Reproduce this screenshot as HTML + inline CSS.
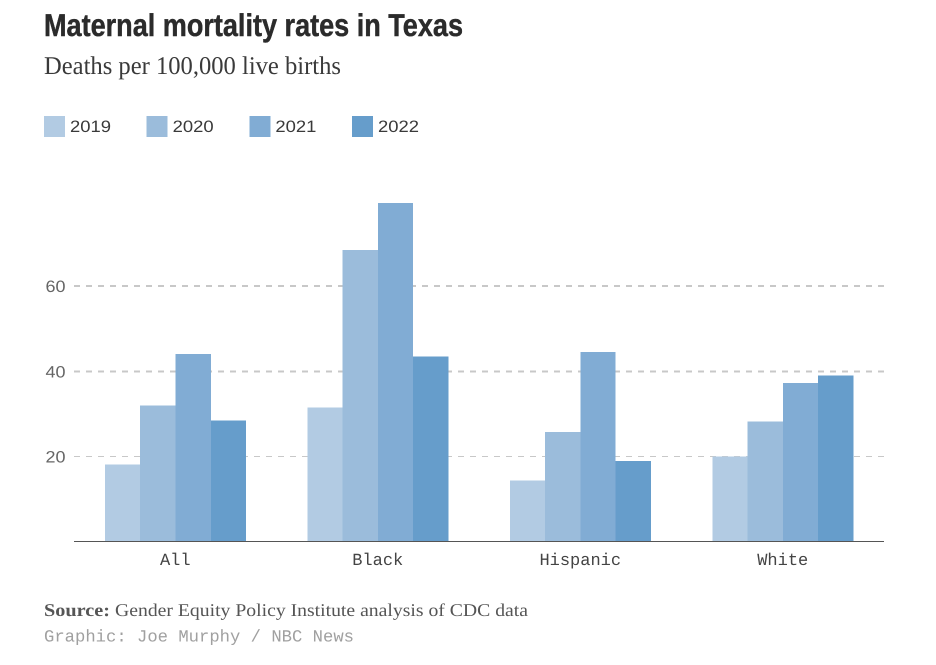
<!DOCTYPE html>
<html lang="en">
<head>
<meta charset="utf-8">
<title>Maternal mortality rates in Texas</title>
<style>
html,body{margin:0;padding:0;background:#fff;width:936px;height:665px;overflow:hidden}
svg{display:block}
text{text-rendering:geometricPrecision}
</style>
</head>
<body>
<svg id="chart" xmlns="http://www.w3.org/2000/svg" width="936" height="665" viewBox="0 0 936 665">
  <text x="44" y="36" font-family="Liberation Sans, sans-serif" font-weight="700" font-size="31.5" fill="#2b2b2b" stroke="#2b2b2b" stroke-width="0.45" textLength="419" lengthAdjust="spacingAndGlyphs">Maternal mortality rates in Texas</text>
  <text x="44" y="74" font-family="Liberation Serif, serif" font-size="25.5" fill="#3a3a3a" textLength="297" lengthAdjust="spacingAndGlyphs">Deaths per 100,000 live births</text>
  <g id="legend"></g>
  <g id="grid"></g>
  <g id="bars" shape-rendering="crispEdges"></g>
  <line x1="74" x2="884" y1="541.5" y2="541.5" stroke="#555" stroke-width="1" shape-rendering="crispEdges"></line>
  <g id="xlabels"></g>
  <text x="44" y="616" font-family="Liberation Serif, serif" font-weight="700" font-size="18" fill="#555" textLength="66" lengthAdjust="spacingAndGlyphs">Source:</text>
  <text x="115" y="616" font-family="Liberation Serif, serif" font-size="18" fill="#555" textLength="413" lengthAdjust="spacingAndGlyphs">Gender Equity Policy Institute analysis of CDC data</text>
  <text x="44" y="641.5" font-family="Liberation Mono, monospace" font-size="17" fill="#a0a0a0" textLength="310" lengthAdjust="spacingAndGlyphs">Graphic: Joe Murphy / NBC News</text>
</svg>
<script>
const categories = ['All', 'Black', 'Hispanic', 'White'];
const years = ['2019', '2020', '2021', '2022'];
const values2019 = [18.1, 31.5, 14.4, 20.0];
const values2020 = [32.0, 68.5, 25.7, 28.2];
const values2021 = [44.0, 79.5, 44.5, 37.2];
const values2022 = [28.5, 43.5, 18.9, 39.0];
const yTicks = [20, 40, 60];
const series = [values2019, values2020, values2021, values2022];
const colors = ['#b2cbe3', '#9bbcdb', '#81acd4', '#669dcb'];

const NS = 'http://www.w3.org/2000/svg';
const plotLeft = 74;
const plotRight = 884;
const baseY = 541.75;
const pxPerUnit = 4.2625;
const bandWidth = (plotRight - plotLeft) / categories.length;
const barStart = 104.95;
const barStep = 202.45;
const barWidth = 35.28;

function yScale(v) { return baseY - v * pxPerUnit; }
function xBand(i) { return plotLeft + i * bandWidth; }
function xBar(i, j) { return barStart + i * barStep + j * barWidth; }
function make(tag, attrs, parent, content) {
  const el = document.createElementNS(NS, tag);
  for (const k in attrs) el.setAttribute(k, attrs[k]);
  if (content !== undefined) el.textContent = content;
  parent.appendChild(el);
  return el;
}

const legendG = document.getElementById('legend');
years.forEach(function (year, j) {
  const x = 44 + j * 102.67;
  const swatch = make('rect', { x: x, y: 116, width: 21, height: 21, fill: colors[j], 'shape-rendering': 'crispEdges' }, legendG);
  
  
  const label = make('text', {
    x: x + 26, y: 132, 'font-family': 'Liberation Sans, sans-serif', 'font-size': 16.5,
    fill: '#3a3a3a', textLength: 41, lengthAdjust: 'spacingAndGlyphs'
  }, legendG, year);
  
  
});

const gridG = document.getElementById('grid');
yTicks.forEach(function (t) {
  const line = make('line', {
    x1: plotLeft, x2: plotRight, y1: yScale(t), y2: yScale(t),
    stroke: '#c8c8c8', 'stroke-width': t === yTicks[0] ? 1 : 2, 'stroke-dasharray': '6 6',
    'shape-rendering': 'crispEdges'
  }, gridG);
  
  
  const label = make('text', {
    x: 65.5, y: yScale(t) + 6, 'text-anchor': 'end', 'font-family': 'Liberation Sans, sans-serif',
    'font-size': 16.5, fill: '#666', textLength: 20, lengthAdjust: 'spacingAndGlyphs'
  }, gridG, String(t));
  
  
});

const barsG = document.getElementById('bars');
categories.forEach(function (cat, i) {
  series.forEach(function (vals, j) {
    const top = yScale(vals[i]);
    const bar = make('rect', {
      x: xBar(i, j), y: top, width: barWidth, height: baseY - top, fill: colors[j]
    }, barsG);
    
    
  });
});

const xG = document.getElementById('xlabels');
categories.forEach(function (cat, i) {
  const label = make('text', {
    x: xBand(i) + bandWidth / 2, y: 565, 'text-anchor': 'middle',
    'font-family': 'Liberation Mono, monospace', 'font-size': 17, fill: '#444'
  }, xG, cat);
  
  
});
</script>
</body>
</html>
